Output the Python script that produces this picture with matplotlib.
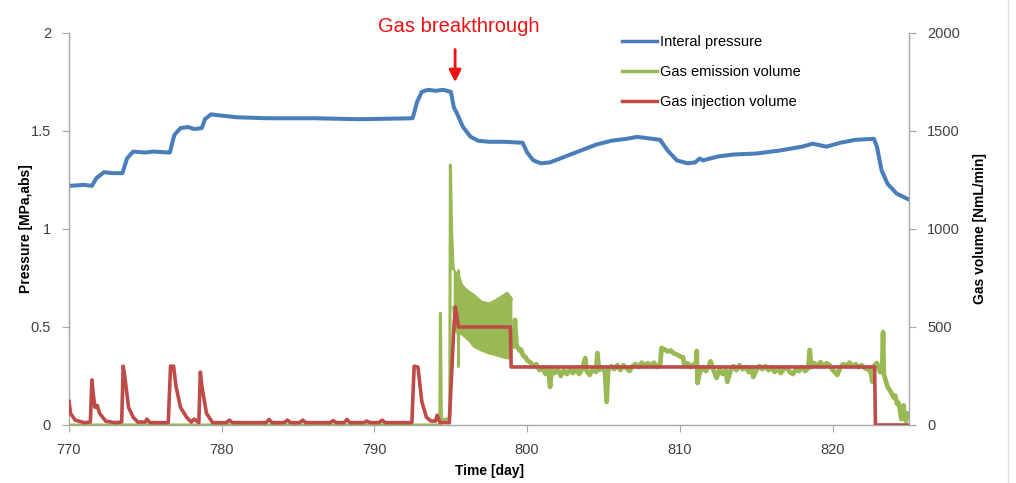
import matplotlib
matplotlib.use("Agg")
import matplotlib.pyplot as plt
from matplotlib.lines import Line2D

plt.rcParams["font.family"] = ["Liberation Sans", "DejaVu Sans"]

# ── Data ─────────────────────────────────────────────────────────────────────
pressure_day = [770, 771.0, 771.5, 771.8, 772.3, 772.8, 773.5, 773.8, 774.2, 775.0,
                775.5, 776.6, 776.9, 777.3, 777.8, 778.2, 778.7, 778.9, 779.3, 779.8,
                781.0, 783.0, 786.0, 789.0, 792.5, 792.8, 793.1, 793.5, 794.0, 794.5,
                795.0, 795.2, 795.4, 795.8, 796.3, 796.8, 797.5, 798.5, 799.7, 800.0,
                800.4, 800.9, 801.5, 802.5, 803.5, 804.5, 805.5, 806.5, 807.2, 808.2,
                808.7, 809.2, 809.8, 810.5, 811.0, 811.3, 811.5, 812.5, 813.5, 815.0,
                816.5, 818.0, 818.7, 819.6, 820.5, 821.5, 822.7, 822.9, 823.2, 823.6,
                824.2, 825.0]
pressure = [1.22, 1.225, 1.22, 1.26, 1.29, 1.285, 1.285, 1.36, 1.395, 1.39,
            1.395, 1.39, 1.48, 1.515, 1.52, 1.51, 1.515, 1.56, 1.585, 1.58,
            1.57, 1.565, 1.565, 1.56, 1.565, 1.65, 1.70, 1.71, 1.705, 1.71,
            1.70, 1.62, 1.59, 1.52, 1.47, 1.45, 1.445, 1.445, 1.44, 1.39,
            1.35, 1.335, 1.34, 1.37, 1.40, 1.43, 1.45, 1.46, 1.47, 1.46,
            1.455, 1.40, 1.35, 1.335, 1.34, 1.36, 1.35, 1.37, 1.38, 1.385,
            1.40, 1.42, 1.435, 1.42, 1.44, 1.455, 1.46, 1.42, 1.30, 1.23,
            1.18, 1.15]

injection_day = [770.0, 770.1, 770.4, 771.0, 771.4, 771.5, 771.6, 771.7, 771.85, 772.0,
                 772.4, 773.0, 773.45, 773.55, 773.65, 773.9, 774.2, 774.5, 775.0, 775.1,
                 775.3, 776.5, 776.65, 776.85, 777.0, 777.3, 777.7, 778.0, 778.2, 778.5,
                 778.6, 778.7, 779.0, 779.4, 780.3, 780.5, 780.7, 782.9, 783.1, 783.3,
                 784.1, 784.3, 784.5, 785.1, 785.3, 785.5, 787.1, 787.3, 787.5, 788.0,
                 788.2, 788.4, 789.3, 789.5, 789.7, 790.3, 790.5, 790.7, 792.45, 792.6,
                 792.85, 793.1, 793.4, 793.7, 794.0, 794.1, 794.3, 794.9, 795.2, 795.3,
                 795.5, 798.9, 798.95, 822.75, 822.8, 825.0]
injection = [120, 60, 25, 12, 15, 230, 150, 90, 100, 60,
             20, 12, 15, 300, 250, 90, 40, 15, 15, 30,
             12, 12, 300, 300, 200, 90, 40, 15, 30, 12,
             270, 200, 60, 12, 12, 25, 12, 12, 28, 12,
             12, 25, 12, 12, 25, 12, 12, 22, 12, 12,
             28, 12, 12, 20, 12, 12, 25, 12, 12, 300,
             295, 120, 40, 20, 20, 50, 12, 12, 500, 602,
             500, 500, 296, 296, 0, 0]

emission_day = [770.0, 794.2, 794.28, 794.32, 794.38, 794.6, 794.85, 794.93, 794.97, 795.05,
                795.15]
emission = [0, 0, 0, 570, 20, 30, 30, 40, 1326, 1000,
            800]

# dense oscillating band right after breakthrough (upper / lower envelopes)
band_day = [795.15, 795.3, 795.45, 795.5, 795.55, 795.7, 795.9, 796.2, 796.5, 797.0,
            797.5, 798.0, 798.4, 798.7, 798.95, 799.0]
band_high = [800, 780, 770, 790, 760, 720, 700, 680, 665, 630,
             620, 640, 660, 675, 650, 640]
band_low = [600, 480, 470, 296, 470, 465, 450, 430, 400, 380,
            365, 355, 345, 340, 340, 420]

# emission after injection was lowered (day, NmL/min)
tail_points = [
    (799.0, 420), (799.1, 400), (799.2, 536), (799.3, 400), (799.4, 395), (799.5, 380),
    (799.6, 385), (799.7, 360), (799.8, 350), (799.9, 345), (800.0, 330), (800.2, 320),
    (800.4, 300), (800.6, 310), (800.8, 280), (801.0, 295), (801.2, 260), (801.4, 285),
    (801.5, 194), (801.6, 280), (801.8, 265), (802.0, 285), (802.2, 250), (802.4, 280),
    (802.6, 260), (802.8, 285), (803.0, 265), (803.2, 290), (803.4, 260), (803.6, 285),
    (803.8, 342), (803.9, 275), (804.1, 255), (804.3, 290), (804.5, 270), (804.6, 367),
    (804.7, 280), (804.9, 295), (805.1, 270), (805.2, 117), (805.3, 280), (805.5, 300),
    (805.7, 285), (805.9, 305), (806.1, 280), (806.3, 305), (806.5, 290), (806.7, 275),
    (806.9, 300), (807.1, 310), (807.3, 295), (807.5, 318), (807.7, 300), (807.9, 315),
    (808.1, 300), (808.3, 318), (808.5, 295), (808.7, 305), (808.8, 393), (809.0, 385),
    (809.2, 375), (809.4, 380), (809.6, 365), (809.8, 360), (810.0, 350), (810.2, 345),
    (810.3, 300), (810.5, 315), (810.7, 295), (810.9, 310), (811.05, 300), (811.1, 378),
    (811.15, 214), (811.3, 270), (811.5, 295), (811.7, 275), (811.9, 300), (812.0, 325),
    (812.2, 280), (812.4, 240), (812.6, 285), (812.8, 260), (813.0, 280), (813.1, 220),
    (813.3, 275), (813.5, 300), (813.7, 280), (813.9, 305), (814.1, 285), (814.3, 295),
    (814.5, 270), (814.7, 285), (814.8, 245), (815.0, 280), (815.2, 300), (815.4, 285),
    (815.6, 300), (815.8, 280), (816.0, 295), (816.2, 270), (816.4, 290), (816.6, 265),
    (816.8, 285), (817.0, 295), (817.2, 270), (817.4, 260), (817.6, 285), (817.8, 275),
    (818.0, 295), (818.2, 275), (818.4, 290), (818.5, 383), (818.6, 295), (818.8, 315),
    (819.0, 300), (819.2, 320), (819.4, 300), (819.6, 315), (819.8, 305), (820.0, 280),
    (820.2, 265), (820.3, 255), (820.5, 295), (820.7, 310), (820.9, 300), (821.1, 318),
    (821.3, 300), (821.5, 310), (821.7, 295), (821.9, 305), (822.1, 290), (822.3, 285),
    (822.5, 270), (822.6, 220), (822.7, 300), (822.9, 316), (823.1, 270), (823.25, 300),
    (823.3, 474), (823.35, 260), (823.5, 220), (823.6, 194), (823.8, 170), (824.0, 140),
    (824.1, 150), (824.2, 110), (824.3, 115), (824.4, 80), (824.5, 30), (824.6, 90),
    (824.65, 100), (824.7, 50), (824.8, 20), (824.9, 60), (825.0, 40),
]
tail_day, tail = zip(*tail_points)

# ── Style ─────────────────────────────────────────────────────────────────────
BLUE = "#4a7ebb"
GREEN = "#98b954"
RED = "#be4b48"
SPINE = "#a6a6a6"
TXT = "#404040"

fig = plt.figure(figsize=(10.16, 4.83), dpi=100)
ax = fig.add_axes([0.0679, 0.1201, 0.8268, 0.8116])
ax2 = ax.twinx()

ax.plot(pressure_day, pressure, color=BLUE, lw=2.9, solid_joinstyle="round")

ax2.plot(emission_day, emission, color=GREEN, lw=2.2)
ax2.fill_between(band_day, band_low, band_high, color=GREEN, lw=0)
ax2.plot(band_day, band_high, color=GREEN, lw=1.5)
ax2.plot(band_day, band_low, color=GREEN, lw=1.5)
ax2.plot(tail_day, tail, color=GREEN, lw=3.4, solid_joinstyle="round")
ax2.plot(injection_day, injection, color=RED, lw=2.6, solid_joinstyle="round")

ax.set_xlim(770, 825)
ax.set_ylim(0, 2)
ax2.set_ylim(0, 2000)
ax.set_xticks([770, 780, 790, 800, 810, 820])
ax.set_yticks([0, 0.5, 1, 1.5, 2])
ax.set_yticklabels(["0", "0.5", "1", "1.5", "2"])
ax2.set_yticks([0, 500, 1000, 1500, 2000])

for a in (ax, ax2):
    a.spines["top"].set_visible(False)
    for s in ("left", "right", "bottom"):
        a.spines[s].set_color(SPINE)
        a.spines[s].set_linewidth(1.0)
    a.tick_params(colors=SPINE, labelcolor=TXT, labelsize=10.5, length=5, pad=8)
ax.spines["right"].set_visible(False)
ax2.spines["left"].set_visible(False)
ax2.spines["bottom"].set_visible(False)

ax.set_xlabel("Time [day]", fontsize=10, fontweight="bold", color="black")
ax.set_ylabel("Pressure [MPa,abs]", fontsize=10, fontweight="bold", color="black")
ax2.set_ylabel("Gas volume [NmL/min]", fontsize=10, fontweight="bold", color="black")
ax.xaxis.set_label_coords(0.5, -0.1)
ax.yaxis.set_label_coords(-0.043, 0.5)
ax2.yaxis.set_label_coords(1.076, 0.5)

# breakthrough annotation
ax.annotate("", xy=(795.28, 1.735), xytext=(795.28, 1.93),
            arrowprops=dict(arrowstyle="-|>", color="#ee1111", lw=2,
                            mutation_scale=18), annotation_clip=False)
ax.text(795.5, 2.035, "Gas breakthrough", color="#ee1111", fontsize=14.5,
        ha="center", va="center", clip_on=False)

handles = [Line2D([], [], color=BLUE, lw=2.5),
           Line2D([], [], color=GREEN, lw=2.5),
           Line2D([], [], color=RED, lw=2.5)]
labels = ["Interal pressure", "Gas emission volume", "Gas injection volume"]
fig.legend(handles, labels, loc="upper left", bbox_to_anchor=(0.599, 0.955),
           frameon=False, fontsize=10.5, handlelength=2.4, handletextpad=0.2,
           labelspacing=1.1, labelcolor="black")

fig.add_artist(Line2D([0.992, 0.992], [0, 1], color="#e0e0e0", lw=1,
                      transform=fig.transFigure))

fig.savefig("out.png", dpi=100)
